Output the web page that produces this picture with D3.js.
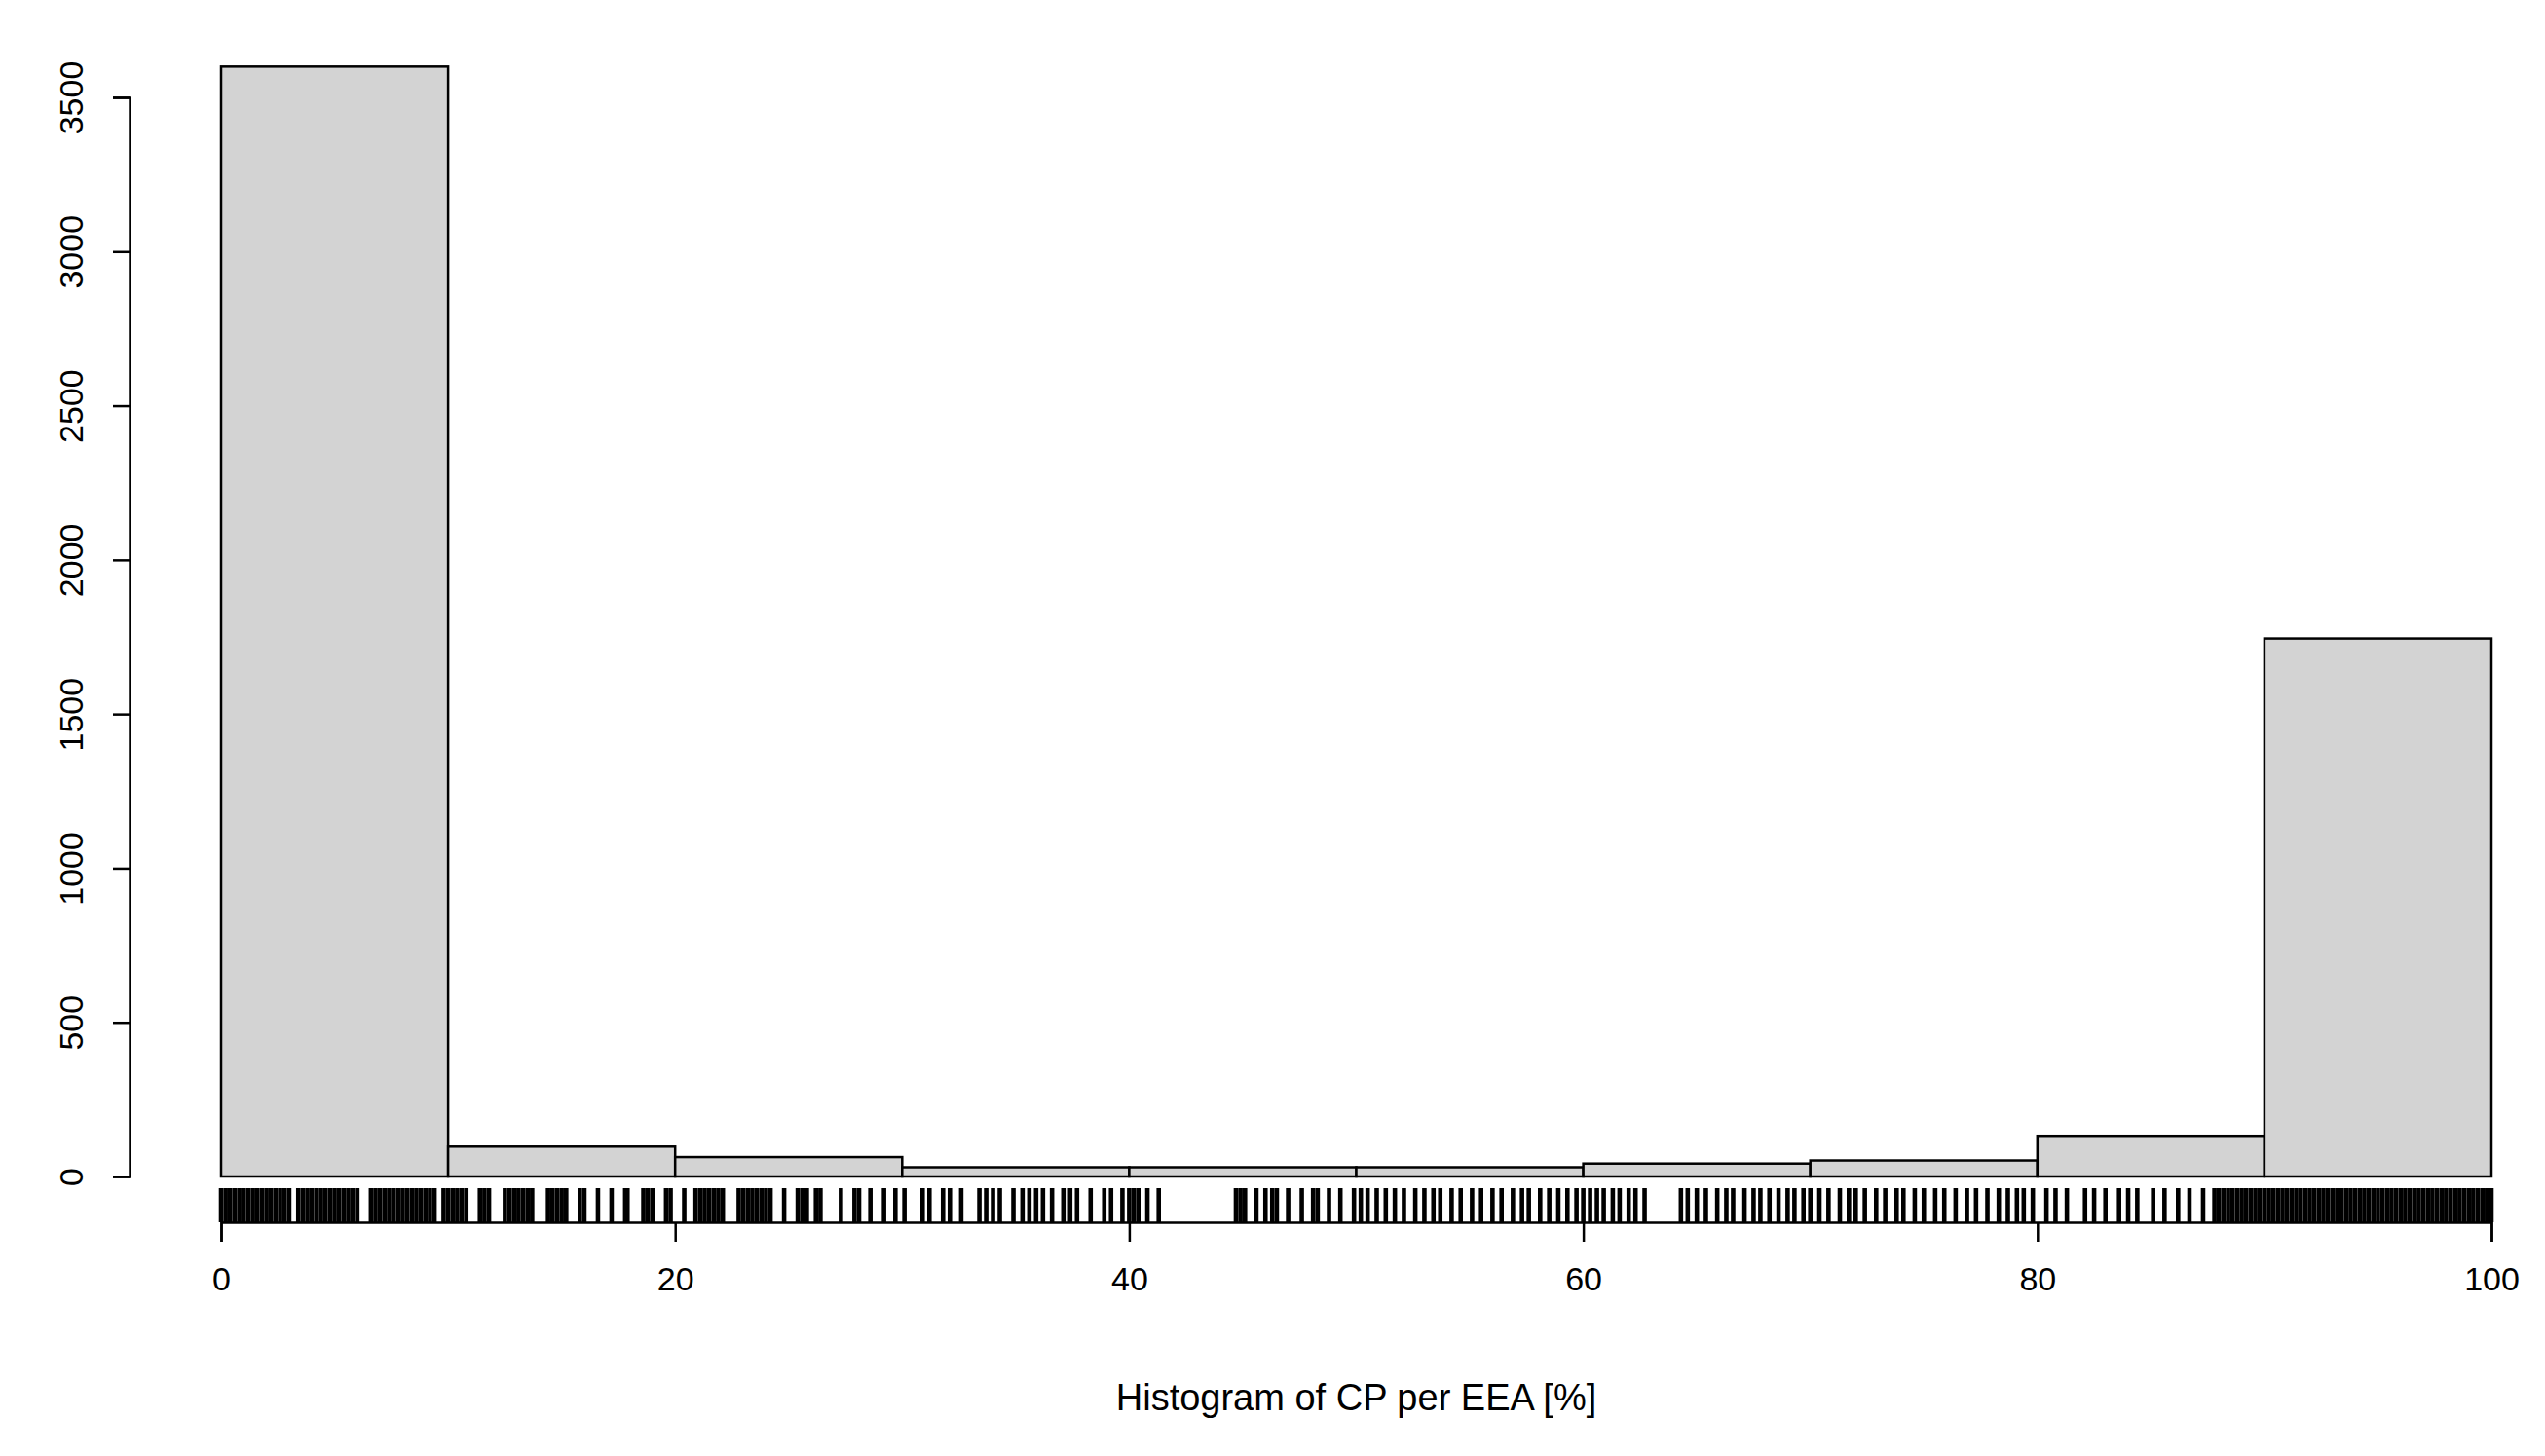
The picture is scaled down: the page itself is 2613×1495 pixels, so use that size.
<!DOCTYPE html>
<html>
<head>
<meta charset="utf-8">
<script src="https://cdn.jsdelivr.net/npm/d3@7"></script>
<style>body{margin:0;background:#fff}</style>
</head>
<body>
<script>
// histogram bins (10% wide) and counts
const binEdges = [0, 10, 20, 30, 40, 50, 60, 70, 80, 90, 100];
const counts = [3600, 97, 63, 30, 30, 30, 42, 52, 132, 1745];
const yTicks = [0, 500, 1000, 1500, 2000, 2500, 3000, 3500];
const xTicks = [0, 20, 40, 60, 80, 100];

// rug positions (approximate, dense zones written out)
const rugLow = [0,0.2,0.4,0.6,0.8,1,1.2,1.4,1.6,1.8,2,2.2,2.4,2.6,2.8,3,3.4,3.6,3.8,4,4.2,4.4,4.6,4.8,5,5.2,5.4,5.6,5.8,6,6.6,6.8,7,7.2,7.4,7.6,7.8,8,8.2,8.4,8.6,8.8,9,9.2,9.4,9.8,10,10.2,10.4,10.6,10.8,11.4,11.6,11.8,12.5,12.7,12.9,13.1,13.3,13.5,13.7,14.4,14.6,14.8,15,15.2,15.8,16,16.6,17.2,17.8,17.9,18.6,18.8,19,19.6,19.8,20.4,20.9,21.1,21.3,21.5,21.7,21.9,22.1,22.8,23,23.2,23.4,23.6,23.8,24,24.2,24.8,25.4,25.6,25.8,26.2,26.4];
const rugMid = [27.3,27.9,28.1,28.6,29.2,29.7,30.1,30.9,31.2,31.8,32.1,32.6,33.4,33.7,34.0,34.3,34.9,35.3,35.6,35.9,36.2,36.6,37.1,37.4,37.7,38.3,38.9,39.2,39.7,40.0,40.2,40.4,40.8,41.3,
  44.7,44.9,45.1,45.6,46.0,46.3,46.5,47.0,47.6,48.1,48.3,48.8,49.3,49.9,50.2,50.5,50.9,51.3,51.7,52.1,52.6,53.0,53.4,53.7,54.2,54.6,55.1,55.5,56.0,56.4,56.9,57.3,57.6,58.1,58.5,58.9,59.3,59.7,60.0,60.3,60.6,60.9,61.3,61.6,62.0,62.3,62.7,
  64.3,64.6,65.0,65.4,65.9,66.3,66.6,67.1,67.5,67.8,68.2,68.6,69.0,69.3,69.7,70.0,70.4,70.8,71.3,71.7,72.0,72.4,72.9,73.3,73.8,74.1,74.6,75.0,75.5,75.9,76.4,76.9,77.3,77.8,78.3,78.7,79.1,79.4,79.8,80.4,80.8,81.3,82.1,82.5,83.0,83.6,84.0,84.4,85.1,85.6,86.2,86.7,87.3];
const rugHigh = [87.8,88,88.2,88.4,88.6,88.8,89,89.2,89.4,89.6,89.8,90,90.2,90.4,90.6,90.8,91,91.2,91.4,91.6,91.8,92,92.2,92.4,92.6,92.8,93,93.2,93.4,93.6,93.8,94,94.2,94.4,94.6,94.8,95,95.2,95.4,95.6,95.8,96,96.2,96.4,96.6,96.8,97,97.2,97.4,97.6,97.8,98,98.2,98.4,98.6,98.8,99,99.2,99.4,99.6,99.8,100];

const width = 2613, height = 1495;
const x = d3.scaleLinear([0, 100], [227, 2558]);
const y = d3.scaleLinear([0, 3500], [1208, 100]);
const font = "'Liberation Sans', Arial, sans-serif";

const svg = d3.select("body").append("svg")
  .attr("width", width).attr("height", height);

// bars
svg.append("g")
  .selectAll("rect")
  .data(counts)
  .join("rect")
  .attr("x", (d, i) => x(binEdges[i]))
  .attr("width", (d, i) => x(binEdges[i + 1]) - x(binEdges[i]))
  .attr("y", d => y(d))
  .attr("height", d => y(0) - y(d))
  .attr("fill", "#d3d3d3")
  .attr("stroke", "#000")
  .attr("stroke-width", 2.5);

// rug
svg.append("g")
  .attr("stroke", "#000")
  .attr("stroke-width", 4.6)
  .selectAll("line")
  .data(rugLow.concat(rugMid, rugHigh))
  .join("line")
  .attr("x1", d => x(d)).attr("x2", d => x(d))
  .attr("y1", 1220).attr("y2", 1255);

// x axis
const xAxis = svg.append("g")
  .attr("transform", "translate(0,1255)")
  .call(d3.axisBottom(x).tickValues(xTicks).tickSize(20).tickPadding(26).tickFormat(d3.format("d")));
xAxis.select(".domain").attr("stroke-width", 2.5);
xAxis.selectAll(".tick line").attr("stroke-width", 2.5);
xAxis.selectAll("text").attr("font-size", 34).attr("font-family", font).attr("fill", "#000");

// y axis
const yAxis = svg.append("g")
  .attr("transform", "translate(133,0)")
  .call(d3.axisLeft(y).tickValues(yTicks).tickSize(17).tickPadding(0).tickFormat(d3.format("d")));
yAxis.select(".domain").attr("stroke-width", 2.5);
yAxis.selectAll(".tick line").attr("stroke-width", 2.5);
yAxis.selectAll("text")
  .attr("font-size", 34).attr("font-family", font).attr("fill", "#000")
  .attr("text-anchor", "middle")
  .attr("transform", "translate(-60,0) rotate(-90)")
  .attr("x", 0).attr("dy", "0.35em");

// title
svg.append("text")
  .attr("x", x(50)).attr("y", 1448)
  .attr("text-anchor", "middle")
  .attr("font-size", 38).attr("font-family", font)
  .text("Histogram of CP per EEA [%]");
</script>
</body>
</html>
